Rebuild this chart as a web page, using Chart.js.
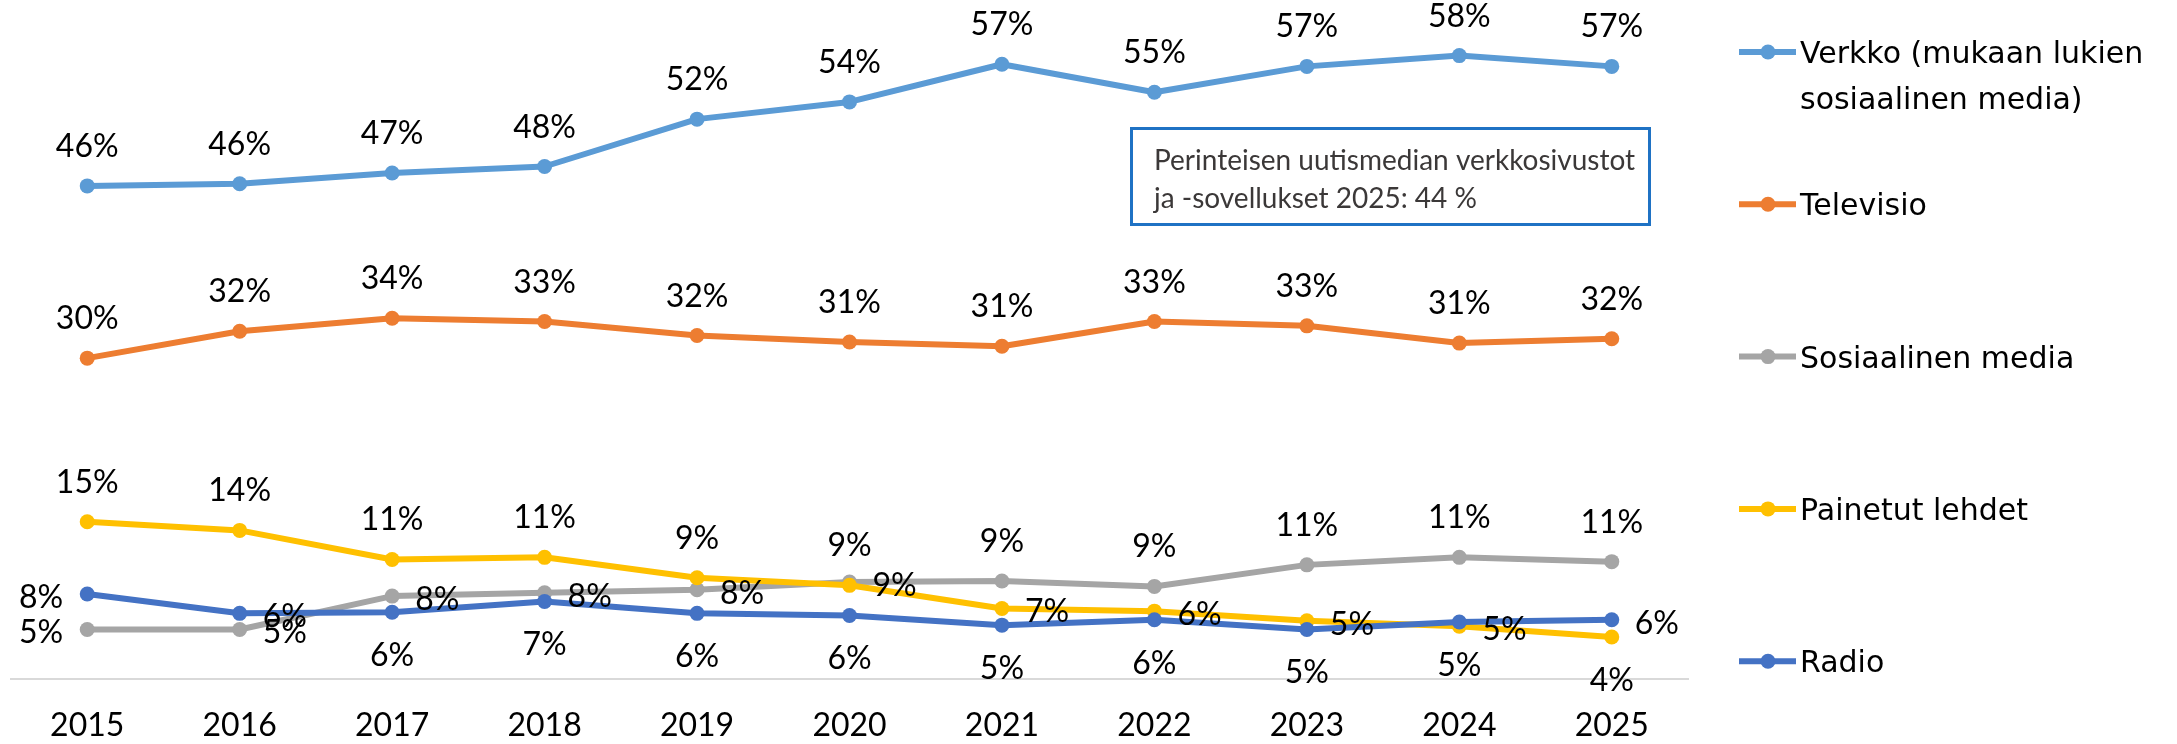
<!DOCTYPE html>
<html>
<head>
<meta charset="utf-8">
<script src="https://cdn.jsdelivr.net/npm/chart.js@4.4.1/dist/chart.umd.min.js"></script>
<style>
  html, body { margin: 0; padding: 0; background: #fff; }
</style>
</head>
<body>
<canvas id="myChart" width="2177" height="744"></canvas>
<script>
// vuodet ja osuudet (%) luettu kuvasta
var vuodet = ["2015", "2016", "2017", "2018", "2019", "2020", "2021", "2022", "2023", "2024", "2025"];
var verkko = [45.8, 46.0, 47.0, 47.6, 52.0, 53.6, 57.1, 54.5, 56.9, 57.9, 56.9];
var televisio = [29.8, 32.3, 33.5, 33.2, 31.9, 31.3, 30.9, 33.2, 32.8, 31.2, 31.6];
var somet = [4.6, 4.6, 7.7, 8.0, 8.3, 9.0, 9.1, 8.6, 10.6, 11.3, 10.9];
var lehdet = [14.6, 13.8, 11.1, 11.3, 9.4, 8.7, 6.55, 6.3, 5.4, 4.9, 3.9];
var radio = [7.9, 6.1, 6.2, 7.2, 6.1, 5.9, 5.0, 5.5, 4.6, 5.3, 5.5];

// etikettien paikat: t = ylla, b = alla, l = vasen, r = oikea
var paikat_verkko = ["t","t","t","t","t","t","t","t","t","t","t"];
var paikat_tv = ["t","t","t","t","t","t","t","t","t","t","t"];
var paikat_some = ["l","r","r","r","r","r","t","t","t","t","t"];
var paikat_lehdet = ["t","t","t","t","t","t","r","r","r","r","b"];
var paikat_radio = ["l","r","b","b","b","b","b","b","b","b","r"];

var huomio = ["Perinteisen uutismedian verkkosivustot", "ja -sovellukset 2025: 44 %"];

function sarja(nimi, arvot, vari, paikat, jarj) {
  return {
    label: nimi,
    data: arvot,
    borderColor: vari,
    backgroundColor: vari,
    pointBackgroundColor: vari,
    pointBorderWidth: 0,
    pointRadius: 7.5,
    borderWidth: 6,
    borderJoinStyle: 'round',
    borderCapStyle: 'round',
    tension: 0,
    order: jarj,
    paikat: paikat
  };
}

// datalabelit piirretaan itse
var etiketit = {
  id: 'etiketit',
  afterDatasetsDraw: function(chart) {
    var ctx = chart.ctx;
    ctx.save();
    ctx.font = '32px Lato';
    ctx.fillStyle = '#000';
    ctx.textBaseline = 'alphabetic';
    chart.data.datasets.forEach(function(ds, i) {
      var meta = chart.getDatasetMeta(i);
      meta.data.forEach(function(pt, j) {
        var txt = Math.round(ds.data[j]) + '%';
        var p = ds.paikat[j];
        var x = pt.x, y = pt.y + 11;
        if (p == 't') { ctx.textAlign = 'center'; y = y - 40; }
        else if (p == 'b') { ctx.textAlign = 'center'; y = y + 43; }
        else if (p == 'r') { ctx.textAlign = 'left'; x = x + 23; y = y + 3; }
        else { ctx.textAlign = 'right'; x = x - 24; y = y + 3; }
        ctx.fillText(txt, x, y);
      });
    });
    ctx.restore();
  }
};

// selite oikealle + tekstilaatikko
var selite = {
  id: 'selite',
  afterDraw: function(chart) {
    var ctx = chart.ctx;
    ctx.save();
    ctx.font = '30px "DejaVu Sans"';
    ctx.textAlign = 'left';
    ctx.textBaseline = 'alphabetic';
    chart.data.datasets.forEach(function(ds, i) {
      var y = 52 + i * 152.3;
      ctx.strokeStyle = ds.borderColor;
      ctx.lineWidth = 6;
      ctx.beginPath();
      ctx.moveTo(1739, y);
      ctx.lineTo(1796, y);
      ctx.stroke();
      ctx.fillStyle = ds.borderColor;
      ctx.beginPath();
      ctx.arc(1768, y, 7.5, 0, Math.PI * 2);
      ctx.fill();
      // rivitys
      var sanat = ds.label.split(' ');
      var rivit = [];
      var rivi = '';
      sanat.forEach(function(s) {
        var koe = rivi ? rivi + ' ' + s : s;
        if (ctx.measureText(koe).width > 370 && rivi) { rivit.push(rivi); rivi = s; }
        else rivi = koe;
      });
      rivit.push(rivi);
      ctx.fillStyle = '#000';
      rivit.forEach(function(r, k) {
        ctx.fillText(r, 1800, y + 11 + k * 46);
      });
    });

    ctx.strokeStyle = '#1F72C4';
    ctx.lineWidth = 3;
    ctx.strokeRect(1131.5, 128.5, 518, 96);
    ctx.fillStyle = '#3B3838';
    ctx.font = '28px Lato';
    ctx.fillText(huomio[0], 1154, 170);
    ctx.fillText(huomio[1], 1154, 208);
    ctx.restore();
  }
};

var ctx = document.getElementById('myChart').getContext('2d');
var myChart = new Chart(ctx, {
  type: 'line',
  data: {
    labels: vuodet,
    datasets: [
      sarja('Verkko (mukaan lukien sosiaalinen media)', verkko, '#5B9BD5', paikat_verkko, 4),
      sarja('Televisio', televisio, '#ED7D31', paikat_tv, 3),
      sarja('Sosiaalinen media', somet, '#A5A5A5', paikat_some, 2),
      sarja('Painetut lehdet', lehdet, '#FFC000', paikat_lehdet, 1),
      sarja('Radio', radio, '#4472C4', paikat_radio, 0)
    ]
  },
  options: {
    responsive: false,
    animation: false,
    devicePixelRatio: 1,
    layout: { padding: { left: 11, right: 489, top: 33, bottom: 0 } },
    plugins: {
      legend: { display: false },
      tooltip: { enabled: false }
    },
    scales: {
      x: {
        offset: true,
        grid: { display: false, drawTicks: false },
        border: { display: true, color: '#D9D9D9', width: 2 },
        ticks: { color: '#000', font: { family: 'Lato', size: 32 }, padding: 27, maxRotation: 0 },
        afterFit: function(axis) { axis.height = 65; }
      },
      y: {
        display: false,
        min: 0,
        max: 60
      }
    }
  },
  plugins: [etiketit, selite]
});
</script>
</body>
</html>
